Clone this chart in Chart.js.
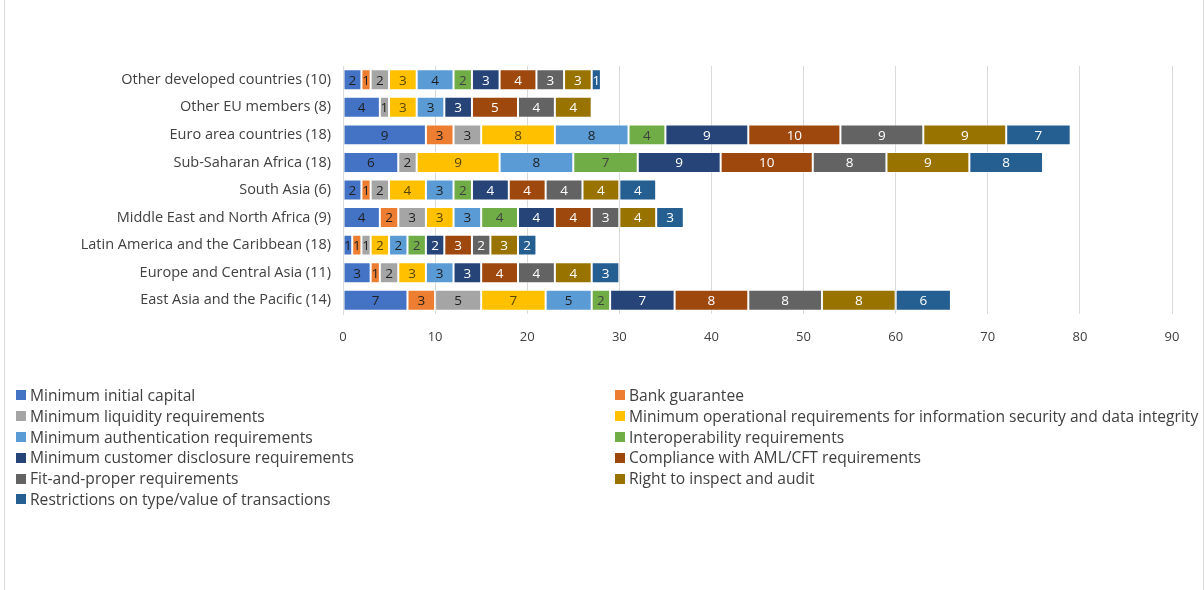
<!DOCTYPE html>
<html>
<head>
<meta charset="utf-8">
<script src="https://cdn.jsdelivr.net/npm/chart.js@4"></script>
<style>
  html, body { margin: 0; padding: 0; background: #fff; }
  #wrap { position: relative; width: 1204px; height: 590px; overflow: hidden; }
  #frame { position: absolute; left: 4px; top: -1px; width: 1200px; height: 600px;
           border: 1px solid #d9d9d9; box-sizing: border-box; }
  canvas { position: absolute; left: 0; top: 0; }
  #legend { position: absolute; left: 16px; top: 385px; width: 1190px;
            display: grid; grid-template-columns: 599px 590px; row-gap: 0;
            font-family: "Open Sans", "Liberation Sans", sans-serif; font-size: 15.6px; color: #404040; }
  .item { height: 20.8px; line-height: 20.8px; white-space: nowrap; display: flex; align-items: center; }
  .sw { width: 10px; height: 10px; margin-right: 4px; flex: none; }
</style>
</head>
<body>
<div id="wrap">
  <div id="frame"></div>
  <canvas id="c" width="1204" height="590"></canvas>
  <div id="legend"></div>
</div>
<script>
const regions = [
  'Other developed countries (10)',
  'Other EU members (8)',
  'Euro area countries (18)',
  'Sub-Saharan Africa (18)',
  'South Asia (6)',
  'Middle East and North Africa (9)',
  'Latin America and the Caribbean (18)',
  'Europe and Central Asia (11)',
  'East Asia and the Pacific (14)'
];

const requirementNames = [
  'Minimum initial capital',
  'Bank guarantee',
  'Minimum liquidity requirements',
  'Minimum operational requirements for information security and data integrity',
  'Minimum authentication requirements',
  'Interoperability requirements',
  'Minimum customer disclosure requirements',
  'Compliance with AML/CFT requirements',
  'Fit-and-proper requirements',
  'Right to inspect and audit',
  'Restrictions on type/value of transactions'
];

// counts per region, in the order of the regions array
const minInitialCapital   = [2, 4, 9, 6, 2, 4, 1, 3, 7];
const bankGuarantee       = [1, 0, 3, 0, 1, 2, 1, 1, 3];
const minLiquidity        = [2, 1, 3, 2, 2, 3, 1, 2, 5];
const minOperational      = [3, 3, 8, 9, 4, 3, 2, 3, 7];
const minAuthentication   = [4, 3, 8, 8, 3, 3, 2, 3, 5];
const interoperability    = [2, 0, 4, 7, 2, 4, 2, 0, 2];
const customerDisclosure  = [3, 3, 9, 9, 4, 4, 2, 3, 7];
const amlCft              = [4, 5, 10, 10, 4, 4, 3, 4, 8];
const fitAndProper        = [3, 4, 9, 8, 4, 3, 2, 4, 8];
const inspectAndAudit     = [3, 4, 9, 9, 4, 4, 3, 4, 8];
const transactionLimits   = [1, 0, 7, 8, 4, 3, 2, 3, 6];

const xTicks = [0, 10, 20, 30, 40, 50, 60, 70, 80, 90];

const seriesValues = [minInitialCapital, bankGuarantee, minLiquidity, minOperational,
  minAuthentication, interoperability, customerDisclosure, amlCft, fitAndProper,
  inspectAndAudit, transactionLimits];

const colors = ['#4472C4', '#ED7D31', '#A5A5A5', '#FFC000', '#5B9BD5', '#70AD47',
  '#264478', '#9E480E', '#636363', '#997300', '#255E91'];
const labelColors = ['#1f1f1f', '#1f1f1f', '#1f1f1f', '#594400', '#1f1f1f', '#404040',
  '#ffffff', '#ffffff', '#ffffff', '#ffffff', '#ffffff'];

const datasets = requirementNames.map((name, i) => ({
  label: name,
  data: seriesValues[i],
  backgroundColor: colors[i],
  borderColor: 'rgba(255,255,255,0.5)',
  borderWidth: 1,
  borderSkipped: false,
  categoryPercentage: 1,
  barPercentage: 0.76
}));

const FONT = '"Open Sans", "Liberation Sans", sans-serif';

const valueLabels = {
  id: 'valueLabels',
  afterDatasetsDraw(chart) {
    const ctx = chart.ctx;
    ctx.save();
    ctx.font = '13.5px ' + FONT;
    ctx.textAlign = 'center';
    ctx.textBaseline = 'middle';
    chart.data.datasets.forEach((ds, di) => {
      const meta = chart.getDatasetMeta(di);
      meta.data.forEach((bar, idx) => {
        const v = ds.data[idx];
        if (!v) return;
        const x = (bar.x + bar.base) / 2;
        ctx.fillStyle = labelColors[di];
        ctx.fillText(String(v), x, bar.y + 1);
      });
    });
    ctx.restore();
  }
};

const chart = new Chart(document.getElementById('c'), {
  type: 'bar',
  data: { labels: regions, datasets },
  options: {
    indexAxis: 'y',
    responsive: false,
    animation: false,
    layout: { padding: { left: 0, top: 66, right: 32, bottom: 236 } },
    plugins: { legend: { display: false }, tooltip: { enabled: false } },
    scales: {
      x: {
        stacked: true,
        min: 0, max: 90,
        afterBuildTicks(scale) { scale.ticks = xTicks.map(v => ({ value: v })); },
        grid: { color: '#d9d9d9', drawTicks: false },
        border: { display: false },
        ticks: { color: '#404040', font: { family: FONT, size: 13 }, padding: 15 },
        afterFit(scale) { scale.height = 40; }
      },
      y: {
        stacked: true,
        grid: { display: false, drawTicks: false },
        border: { display: true, color: '#d9d9d9' },
        ticks: { color: '#404040', font: { family: FONT, size: 14.5 }, padding: 12 },
        afterFit(scale) { scale.width = 343; }
      }
    }
  },
  plugins: [valueLabels]
});

// two-column legend built from the chart's datasets
const legend = document.getElementById('legend');
chart.data.datasets.forEach(ds => {
  const item = document.createElement('div');
  item.className = 'item';
  const sw = document.createElement('span');
  sw.className = 'sw';
  sw.style.background = ds.backgroundColor;
  const t = document.createElement('span');
  t.textContent = ds.label;
  item.appendChild(sw);
  item.appendChild(t);
  legend.appendChild(item);
});
</script>
</body>
</html>
